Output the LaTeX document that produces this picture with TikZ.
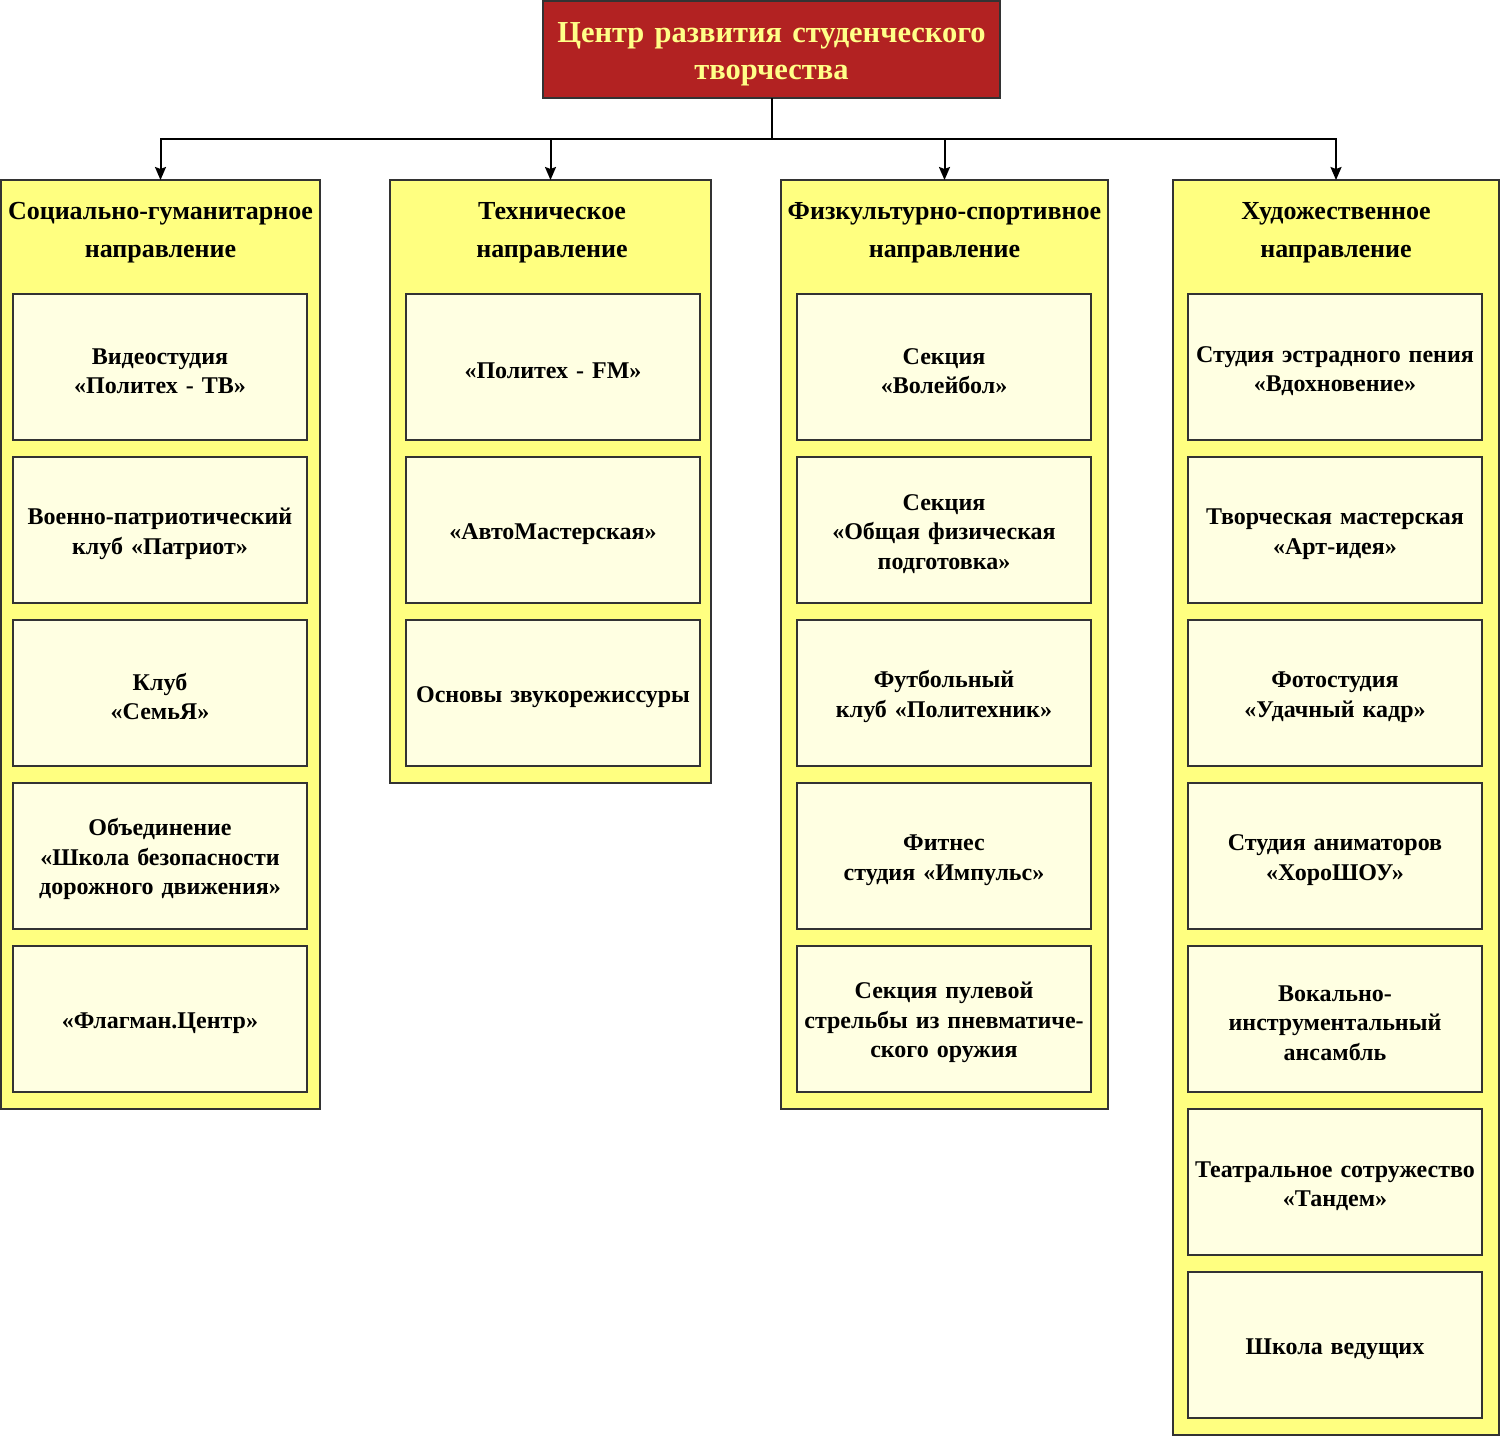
\documentclass[tikz,border=0pt]{standalone}
\usepackage{fontspec}
\setmainfont{Liberation Serif}
\usetikzlibrary{arrows.meta}
\definecolor{centrered}{HTML}{B22222}
\definecolor{titleyellow}{HTML}{FFFF88}
\definecolor{colyellow}{HTML}{FFFF80}
\definecolor{boxyellow}{HTML}{FFFFE2}
\definecolor{boxline}{HTML}{333333}
\begin{document}
\begin{tikzpicture}
  [
    x = 1pt, y = -1pt,
    every node/.style = {inner sep = 0pt, outer sep = 0pt, align = center},
    centre/.style = {draw = boxline, line width = 1.5pt, fill = centrered, text = titleyellow, text width = 450pt,
      font = \fontsize{30.5}{37}\selectfont\bfseries, minimum width = 457pt, minimum height = 97pt,
      execute at begin node = \rule{0pt}{30pt}},
    column/.style = {draw = boxline, line width = 1.5pt, fill = colyellow},
    header/.style = {font = \fontsize{26}{38}\selectfont\bfseries, anchor = north},
    unit/.style = {draw = boxline, line width = 1.5pt, fill = boxyellow, text width = 288pt,
      font = \fontsize{24}{29.5}\selectfont\bfseries, minimum width = 294pt, minimum height = 146pt,
      execute at begin node = \rule{0pt}{24pt}},
    link/.style = {-{Stealth[length = 13pt, width = 11pt, inset = 2pt]}, line width = 2pt}
  ]
    \useasboundingbox (0,0) rectangle (1500,1438);
    \node (top) [centre] at (771.5,49.5) {Центр развития студенческого\\творчества};
    % columns
    \node (c1) [column, minimum width = 319pt, minimum height = 929pt] at (160.5,644.5) {};
    \node (c2) [column, minimum width = 321pt, minimum height = 603pt] at (550.5,481.5) {};
    \node (c3) [column, minimum width = 327pt, minimum height = 929pt] at (944.5,644.5) {};
    \node (c4) [column, minimum width = 326pt, minimum height = 1255pt] at (1336,807.5) {};
    \node (h1) [header] at (160.5,202) {Социально-гуманитарное\\направление};
    \node (h2) [header] at (552,202) {Техническое\\направление};
    \node (h3) [header] at (944.5,202) {Физкультурно-спортивное\\направление};
    \node (h4) [header] at (1336,202) {Художественное\\направление};
    % units
    \node (a1) [unit] at (160,367) {Видеостудия\\«Политех - ТВ»};
    \node (a2) [unit] at (160,530) {Военно-патриотический\\клуб «Патриот»};
    \node (a3) [unit] at (160,693) {Клуб\\«СемьЯ»};
    \node (a4) [unit] at (160,856) {Объединение\\«Школа безопасности\\дорожного движения»};
    \node (a5) [unit] at (160,1019) {«Флагман.Центр»};
    \node (b1) [unit] at (553,367) {«Политех - FM»};
    \node (b2) [unit] at (553,530) {«АвтоМастерская»};
    \node (b3) [unit] at (553,693) {Основы звукорежиссуры};
    \node (d1) [unit] at (944,367) {Секция\\«Волейбол»};
    \node (d2) [unit] at (944,530) {Секция\\«Общая физическая\\подготовка»};
    \node (d3) [unit] at (944,693) {Футбольный\\клуб «Политехник»};
    \node (d4) [unit] at (944,856) {Фитнес\\студия «Импульс»};
    \node (d5) [unit] at (944,1019) {Секция пулевой\\стрельбы из пневматиче-\\ского оружия};
    \node (e1) [unit] at (1335,367) {Студия эстрадного пения\\«Вдохновение»};
    \node (e2) [unit] at (1335,530) {Творческая мастерская\\«Арт-идея»};
    \node (e3) [unit] at (1335,693) {Фотостудия\\«Удачный кадр»};
    \node (e4) [unit] at (1335,856) {Студия аниматоров\\«ХороШОУ»};
    \node (e5) [unit] at (1335,1019) {Вокально-\\инструментальный\\ансамбль};
    \node (e6) [unit] at (1335,1182) {Театральное сотружество\\«Тандем»};
    \node (e7) [unit] at (1335,1345) {Школа ведущих};
    % connectors
    \coordinate (fork) at (771.5,139);
    \draw [line width = 2pt] (top.south) -- (fork);
    \draw [link] (fork) -| (c1.north);
    \draw [link] (fork) -| (c2.north);
    \draw [link] (fork) -| (c3.north);
    \draw [link] (fork) -| (c4.north);
  \end{tikzpicture}
\end{document}
